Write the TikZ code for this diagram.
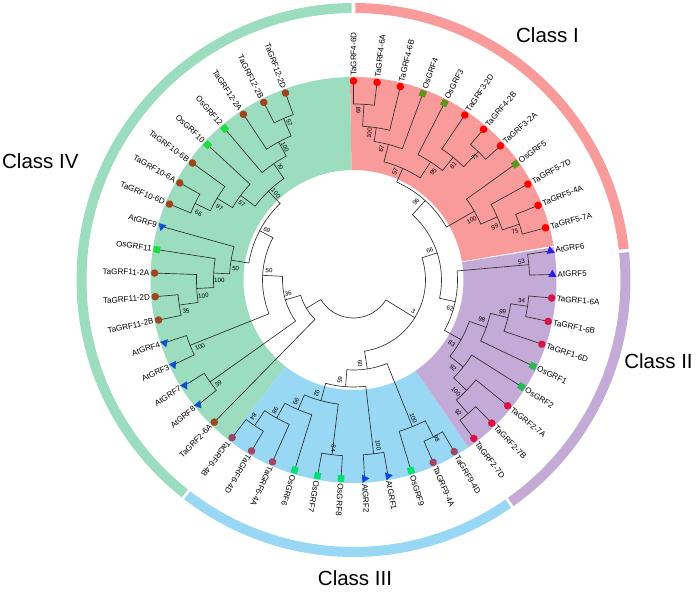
\documentclass[tikz,border=0pt]{standalone}
\usepackage{fontspec}
\setmainfont{Liberation Sans}
\usetikzlibrary{shapes.geometric}
\definecolor{secI}{RGB}{250,155,155}
\definecolor{secII}{RGB}{195,170,215}
\definecolor{secIII}{RGB}{152,216,245}
\definecolor{secIV}{RGB}{155,221,190}
\definecolor{brc}{RGB}{45,45,45}
\definecolor{taI}{RGB}{255,0,0}
\definecolor{osI}{RGB}{95,150,30}
\definecolor{taII}{RGB}{215,20,70}
\definecolor{osII}{RGB}{40,185,80}
\definecolor{atII}{RGB}{40,30,230}
\definecolor{taIII}{RGB}{160,70,100}
\definecolor{osIII}{RGB}{0,225,110}
\definecolor{atIII}{RGB}{20,70,230}
\definecolor{taIV}{RGB}{160,70,30}
\definecolor{osIV}{RGB}{30,220,60}
\definecolor{atIV}{RGB}{20,80,200}
\newcommand\cl[6]{% name, r, a1, r1, a2, r2
  \coordinate (#1) at ({(#3+#5)/2}:#2);
  \draw[br] (#3:#4) -- (#3:#2) arc[start angle=#3, end angle=#5, radius=#2] -- (#5:#6);}
\newcommand\lfR[4]{% angle, name, style, text
  \node[#3, rotate=#1] (#2) at (#1:199) {};
  \node[lab, rotate=#1, anchor=west] (#2t) at (#1:203) {#4};}
\newcommand\lfL[4]{%
  \node[#3, rotate=#1] (#2) at (#1:199) {};
  \node[lab, rotate=#1-180, anchor=east] (#2t) at (#1:203) {#4};}
\newcommand\bsR[4]{\node[bs, rotate=#2] (#1) at (#2:#3) {#4};}
\newcommand\bsL[4]{\node[bs, rotate=#2-180] (#1) at (#2:#3) {#4};}
\begin{document}
\begin{tikzpicture}[x=1pt,y=1pt,
  br/.style={draw=brc, line width=0.65pt},
  lab/.style={inner sep=1pt, font=\fontsize{8.1}{9}\selectfont},
  bs/.style={inner sep=0pt, font=\fontsize{6.2}{7}\selectfont},
  cls/.style={inner sep=0pt, font=\fontsize{20.5}{24}\selectfont},
  dot/.style={circle, inner sep=0pt, minimum size=7.6pt, fill=#1},
  sq/.style={rectangle, inner sep=0pt, minimum size=6.6pt, fill=#1},
  tri/.style={regular polygon, regular polygon sides=3, inner sep=0pt, minimum size=9.6pt, fill=#1},
  ring/.style={draw=#1, line width=10pt}]
\useasboundingbox (-353.5,-314) rectangle (342.5,280);
% sectors
\fill[secIV] (91:110) arc[start angle=91,end angle=232,radius=110] -- (232:203) arc[start angle=232,end angle=91,radius=203] -- cycle;
\fill[secIII] (-128:110) arc[start angle=-128,end angle=-55.5,radius=110] -- (-55.5:203) arc[start angle=-55.5,end angle=-128,radius=203] -- cycle;
\fill[secII] (-55.5:110) arc[start angle=-55.5,end angle=9.3,radius=110] -- (9.3:203) arc[start angle=9.3,end angle=-55.5,radius=203] -- cycle;
\fill[secI] (9.7:110) arc[start angle=9.7,end angle=91,radius=110] -- (91:203) arc[start angle=91,end angle=9.7,radius=203] -- cycle;
% outer ring
\draw[ring=secI] (89.6:272) arc[start angle=89.6,end angle=6.5,radius=272];
\draw[ring=secII] (5.8:272) arc[start angle=5.8,end angle=-54.7,radius=272];
\draw[ring=secIII] (-55.3:272) arc[start angle=-55.3,end angle=-127.7,radius=272];
\draw[ring=secIV] (-128.3:272) arc[start angle=-128.3,end angle=-269.6,radius=272];
% class titles
\node[cls] (cI) at (194,245) {Class I};
\node[cls] (cII) at (305,-81) {Class II};
\node[cls] (cIII) at (1.5,-298) {Class III};
\node[cls, anchor=west] (cIV) at (-351.5,119) {Class IV};
% tree: class I
\cl{n68}{176}{90}{199}{83.2}{199}
\cl{n100a}{154}{86.6}{176}{76.4}{199}
\cl{n67}{140}{81.5}{154}{69.6}{199}
\cl{n71}{179}{49.2}{199}{42.4}{199}
\cl{n81}{158}{56}{199}{45.8}{179}
\cl{n85}{141}{62.8}{199}{50.9}{158}
\cl{n57}{122}{75.55}{140}{56.85}{141}
\cl{n75}{175}{22}{199}{15.2}{199}
\cl{n99}{157}{28.8}{199}{18.6}{175}
\cl{n100b}{139}{35.6}{199}{23.7}{157}
\cl{n96}{107}{66.2}{122}{29.65}{139}
% class II
\cl{n53}{176}{8.4}{199}{1.6}{199}
\cl{n34}{176}{-5.2}{199}{-12}{199}
\cl{n99a}{159}{-8.6}{176}{-18.8}{199}
\cl{n99b}{141}{-13.7}{159}{-25.6}{199}
\cl{n92b}{176}{-46}{199}{-52.8}{199}
\cl{n100c}{158}{-39.2}{199}{-49.4}{176}
\cl{n92}{140}{-32.4}{199}{-44.3}{158}
\cl{n83}{123}{-19.65}{141}{-38.35}{140}
\cl{n62}{104}{5}{176}{-29}{123}
\cl{n66}{88}{47.925}{107}{-12}{104}
% class III
\cl{n98c}{176}{-59.6}{199}{-66.4}{199}
\cl{n100d}{158}{-73.2}{199}{-63}{176}
\cl{n100e}{175}{-80}{199}{-86.8}{199}
\cl{n84}{176}{-93.6}{199}{-100.4}{199}
\cl{n84b}{176}{-120.8}{199}{-127.6}{199}
\cl{n98d}{158}{-114}{199}{-124.2}{176}
\cl{n99c}{141}{-107.2}{199}{-119.1}{158}
\cl{n92c}{125}{-97}{176}{-113.15}{141}
\cl{n65}{107}{-83.4}{175}{-105.075}{125}
\cl{n60}{90}{-68.1}{158}{-94.24}{107}
\cl{n3}{72}{17.96}{88}{-81.17}{90}
% class IV
\cl{n57b}{176}{116.8}{199}{110}{199}
\cl{n100g}{157}{123.6}{199}{113.4}{176}
\cl{n70}{141}{130.4}{199}{118.5}{157}
\cl{n66b}{176}{157.6}{199}{150.8}{199}
\cl{n97}{159}{144}{199}{154.2}{176}
\cl{n57c}{141}{137.2}{199}{149.1}{159}
\cl{n100h}{123}{124.45}{141}{143.15}{141}
\cl{n35}{176}{191.6}{199}{184.8}{199}
\cl{n100j}{157}{178}{199}{188.2}{176}
\cl{n100i}{140}{171.2}{199}{183.1}{157}
\cl{n50b}{124}{164.4}{199}{177.15}{140}
\cl{n69}{106}{133.8}{123}{170.775}{124}
\cl{n100k}{176}{205.2}{199}{198.4}{199}
\cl{n50c}{91}{152.29}{106}{201.8}{176}
\cl{n39}{176}{218.8}{199}{212}{199}
\cl{n36}{71}{177.05}{91}{215.4}{176}
\cl{nX}{55}{196.22}{71}{225.6}{199}
\cl{root}{38}{210.9}{55}{328.4}{72}
% leaves
\lfR{90}{L0}{dot=taI}{TaGRF4-6D}
\lfR{83.2}{L1}{dot=taI}{TaGRF4-6A}
\lfR{76.4}{L2}{dot=taI}{TaGRF4-6B}
\lfR{69.6}{L3}{sq=osI}{OsGRF4}
\lfR{62.8}{L4}{sq=osI}{OsGRF3}
\lfR{56}{L5}{dot=taI}{TaGRF3-2D}
\lfR{49.2}{L6}{dot=taI}{TaGRF4-2B}
\lfR{42.4}{L7}{dot=taI}{TaGRF3-2A}
\lfR{35.6}{L8}{sq=osI}{OsGRF5}
\lfR{28.8}{L9}{dot=taI}{TaGRF5-7D}
\lfR{22}{L10}{dot=taI}{TaGRF5-4A}
\lfR{15.2}{L11}{dot=taI}{TaGRF5-7A}
\lfR{8.4}{L12}{tri=atII}{AtGRF6}
\lfR{1.6}{L13}{tri=atII}{AtGRF5}
\lfR{-5.2}{L14}{dot=taII}{TaGRF1-6A}
\lfR{-12}{L15}{dot=taII}{TaGRF1-6B}
\lfR{-18.8}{L16}{dot=taII}{TaGRF1-6D}
\lfR{-25.6}{L17}{sq=osII}{OsGRF1}
\lfR{-32.4}{L18}{sq=osII}{OsGRF2}
\lfR{-39.2}{L19}{dot=taII}{TaGRF2-7A}
\lfR{-46}{L20}{dot=taII}{TaGRF2-7B}
\lfR{-52.8}{L21}{dot=taII}{TaGRF2-7D}
\lfR{-59.6}{L22}{dot=taIII}{TaGRF9-4D}
\lfR{-66.4}{L23}{dot=taIII}{TaGRF9-4A}
\lfR{-73.2}{L24}{sq=osIII}{OsGRF9}
\lfR{-80}{L25}{tri=atIII}{AtGRF1}
\lfR{-86.8}{L26}{tri=atIII}{AtGRF2}
\lfR{-93.6}{L27}{sq=osIII}{OsGRF8}
\lfR{-100.4}{L28}{sq=osIII}{OsGRF7}
\lfR{-107.2}{L29}{sq=osIII}{OsGRF6}
\lfR{-114}{L30}{dot=taIII}{TaGRF6-4A}
\lfR{-120.8}{L31}{dot=taIII}{TaGRF6-4D}
\lfR{-127.6}{L32}{dot=taIII}{TaGRF6-4B}
\lfL{225.6}{L33}{dot=taIV}{TaGRF2-6A}
\lfL{218.8}{L34}{tri=atIV}{AtGRF8}
\lfL{212}{L35}{tri=atIV}{AtGRF7}
\lfL{205.2}{L36}{tri=atIV}{AtGRF3}
\lfL{198.4}{L37}{tri=atIV}{AtGRF4}
\lfL{191.6}{L38}{dot=taIV}{TaGRF11-2B}
\lfL{184.8}{L39}{dot=taIV}{TaGRF11-2D}
\lfL{178}{L40}{dot=taIV}{TaGRF11-2A}
\lfL{171.2}{L41}{sq=osIV}{OsGRF11}
\lfL{164.4}{L42}{tri=atIV}{AtGRF9}
\lfL{157.6}{L43}{dot=taIV}{TaGRF10-6D}
\lfL{150.8}{L44}{dot=taIV}{TaGRF10-6A}
\lfL{144}{L45}{dot=taIV}{TaGRF10-6B}
\lfL{137.2}{L46}{sq=osIV}{OsGRF10}
\lfL{130.4}{L47}{sq=osIV}{OsGRF12}
\lfL{123.6}{L48}{dot=taIV}{TaGRF12-2A}
\lfL{116.8}{L49}{dot=taIV}{TaGRF12-2B}
\lfL{110}{L50}{dot=taIV}{TaGRF12-2D}
% bootstrap values
\bsR{b1}{88.4}{170}{68}
\bsR{b2}{83.8}{147.5}{100}
\bsR{b3}{77.9}{134}{67}
\bsR{b4}{69}{116}{57}
\bsR{b5}{53.6}{134.5}{85}
\bsR{b6}{49}{152}{81}
\bsR{b7}{45.4}{173}{71}
\bsR{b8}{26.9}{132.5}{100}
\bsR{b9}{20.6}{151}{99}
\bsR{b10}{16.7}{168.6}{75}
\bsR{b11}{51.4}{100}{96}
\bsR{b12}{21.4}{82}{66}
\bsR{b13}{6.2}{169}{53}
\bsR{b14}{-7}{169.4}{34}
\bsR{b15}{-12}{152.5}{99}
\bsR{b16}{-17.3}{134.3}{98}
\bsR{b17}{-32.8}{116.8}{83}
\bsR{b18}{-41.5}{133}{92}
\bsR{b19}{-47.5}{151.6}{100}
\bsR{b20}{-51.7}{169}{92}
\bsR{b21}{-16.3}{100.6}{62}
\bsR{b22}{-27.9}{67.7}{3}
\bsR{b23}{-62.3}{178.8}{98}
\bsR{b24}{-66.6}{150.7}{100}
\bsR{b25}{-81.5}{166.9}{100}
\bsR{b26}{-96.8}{169.5}{84}
\bsR{b27}{-126.2}{169.5}{84}
\bsR{b28}{-121}{151.9}{98}
\bsR{b29}{-115.3}{134.6}{99}
\bsR{b30}{-107.9}{119.1}{92}
\bsR{b31}{-97.7}{101}{65}
\bsR{b32}{-85.5}{83.6}{60}
\bsL{b33}{112.2}{169.9}{57}
\bsL{b34}{117.2}{149.9}{100}
\bsL{b35}{123}{135}{70}
\bsL{b36}{131.8}{116.3}{100}
\bsL{b37}{145.8}{135}{57}
\bsL{b38}{151.5}{152.6}{97}
\bsL{b39}{156.7}{168.9}{66}
\bsL{b40}{150}{100}{69}
\bsL{b41}{174.3}{118.4}{50}
\bsL{b42}{180}{134.2}{100}
\bsL{b43}{186}{151}{100}
\bsL{b44}{190.5}{170.3}{35}
\bsL{b45}{173.7}{85}{50}
\bsL{b46}{203.5}{167.4}{100}
\bsL{b47}{191.5}{66.6}{36}
\bsL{b48}{217.6}{170.6}{39}
\end{tikzpicture}
\end{document}
